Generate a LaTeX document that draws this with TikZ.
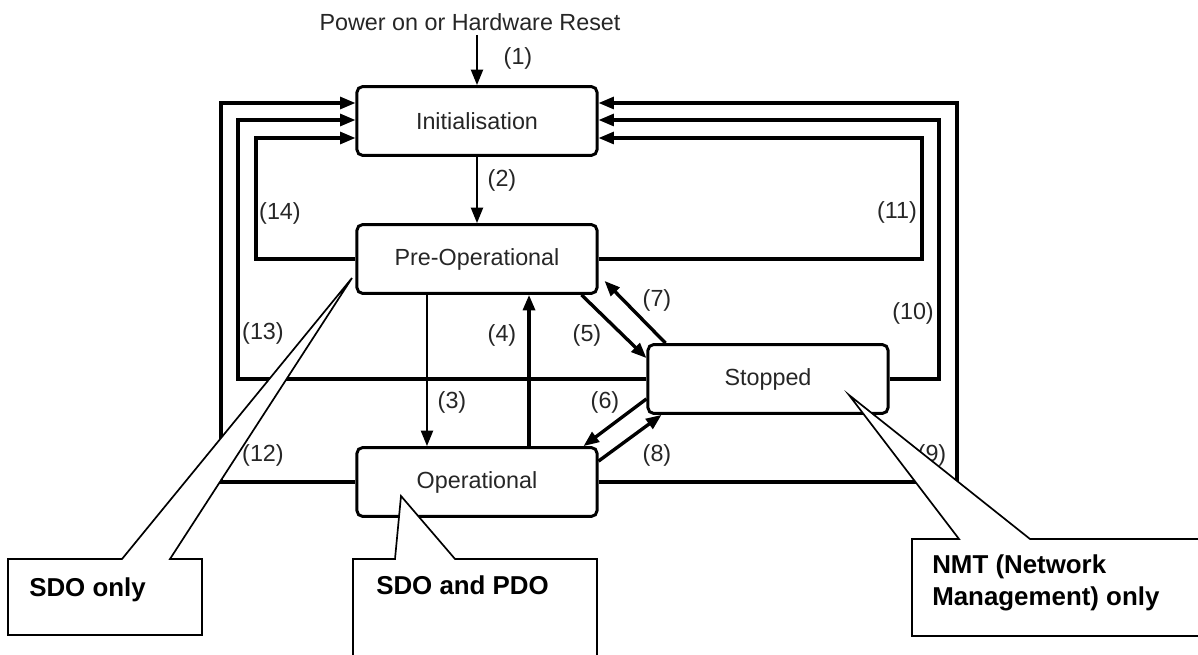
\documentclass[tikz,border=0pt]{standalone}
\usepackage{fontspec}
\setmainfont{Liberation Sans}
\usetikzlibrary{arrows.meta}

\begin{document}
\begin{tikzpicture}[x=0.025cm,y=-0.025cm,
  state/.style={draw,line width=2.1pt,rounded corners=4pt,minimum width=6cm,minimum height=1.72cm,
    text=black!85,font=\fontsize{16.6}{20}\selectfont},
  lbl/.style={text=black!85,font=\fontsize{16.6}{20}\selectfont,inner sep=0pt},
  arr/.style={line width=1.6pt,-{Triangle[length=11pt,width=8.5pt]}},
  thickarr/.style={arr,line width=2.4pt},
  rail/.style={line width=2.2pt,-{Triangle[length=11pt,width=8.5pt]}},
  callout/.style={draw,fill=white,line width=1.2pt},
  note/.style={align=left,inner sep=0pt,font=\fontsize{18.4}{23}\selectfont\bfseries}]
\useasboundingbox (0,0) rectangle (1198,655);

% states
\node[lbl] (power) at (470,22) {Power on or Hardware Reset};
\node[state] (init) at (477,121) {Initialisation};
\node[state] (preop) at (477,259) {Pre-Operational};
\node[state] (op) at (477,482) {Operational};
\node[state] (stop) at (768,379) {Stopped};

% corners of the reset loops
\coordinate (c12) at (221,103);
\coordinate (c13) at (238,120);
\coordinate (c14) at (256,138);
\coordinate (c9) at (957,103);
\coordinate (c10) at (939,120);
\coordinate (c11) at (922,138);

\draw[arr] (init.north |- power.south) ++(0,4) -- (init.north);
\draw[arr] (init) -- (preop);
\draw[arr] ([xshift=-1.25cm]preop.south) -- ([xshift=-1.25cm]op.north);
\draw[thickarr] ([xshift=1.3cm]op.north) -- ([xshift=1.3cm]preop.south);
\draw[thickarr] ([xshift=-0.425cm]preop.south east) -- ([yshift=-0.375cm]stop.north west);
\draw[thickarr] ([xshift=0.475cm]stop.north west) -- ([xshift=0.15cm,yshift=0.35cm]preop.south east);
\draw[thickarr] ([yshift=0.4cm]stop.south west) -- ([xshift=-0.375cm]op.north east);
\draw[thickarr] ([yshift=-0.375cm]op.north east) -- ([xshift=0.375cm]stop.south west);

\draw[rail] (op.west) -| (c12) -- (c12 -| init.west);
\draw[rail] (stop.west) -| (c13) -- (c13 -| init.west);
\draw[rail] (preop.west) -| (c14) -- (c14 -| init.west);
\draw[rail] (op.east) -| (c9) -- (c9 -| init.east);
\draw[rail] (stop.east) -| (c10) -- (c10 -| init.east);
\draw[rail] (preop.east) -| (c11) -- (c11 -| init.east);

% transition numbers
\node[lbl] (t1) at (518,58) {(1)};
\node[lbl] (t2) at (502,180) {(2)};
\node[lbl] (t3) at (452,402) {(3)};
\node[lbl] (t4) at (502,335) {(4)};
\node[lbl] (t5) at (587,335) {(5)};
\node[lbl] (t6) at (605,402) {(6)};
\node[lbl] (t7) at (657,300) {(7)};
\node[lbl] (t8) at (657,455) {(8)};
\node[lbl] (t9) at (932,455) {(9)};
\node[lbl] (t10) at (913,313) {(10)};
\node[lbl] (t11) at (897,212) {(11)};
\node[lbl] (t12) at (263,455) {(12)};
\node[lbl] (t13) at (263,333) {(13)};
\node[lbl] (t14) at (280,213) {(14)};

% callouts
\draw[callout] (8,559) -- (122,559) -- (352,278) -- (170,559) -- (202,559) -- (202,635) -- (8,635) -- cycle;
\draw[callout] (353,559) -- (395,559) -- (401,496) -- (455,559) -- (597,559) -- (597,670) -- (353,670) -- cycle;
\draw[callout] (912,539) -- (959,539) -- (849,395) -- (1030,539) -- (1215,539) -- (1215,636) -- (912,636) -- cycle;
\node[note,anchor=base west] (sdo) at (29,596) {SDO only};
\node[note,anchor=base west] (sdopdo) at (376,595) {SDO and PDO};
\node[note,anchor=north west] (nmt) at (932,554) {NMT (Network\\Management) only};
\end{tikzpicture}
\end{document}
